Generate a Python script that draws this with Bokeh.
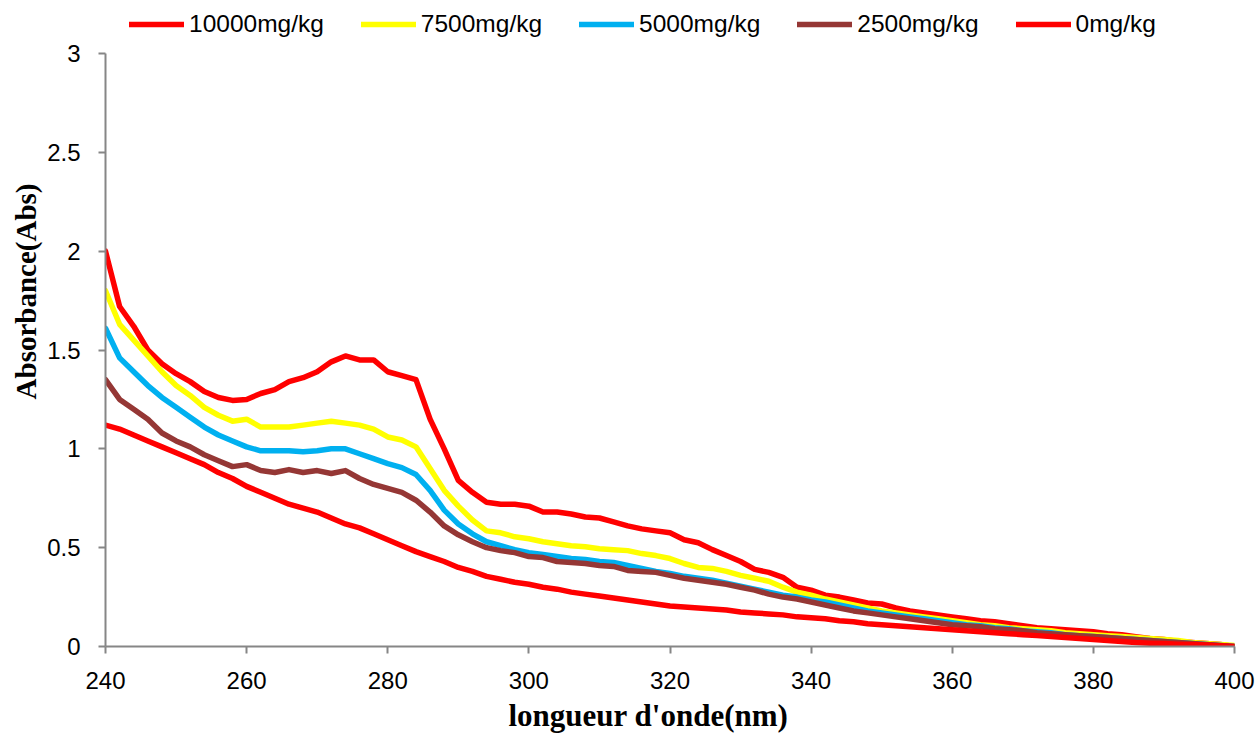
from bokeh.plotting import figure
from bokeh.models import Range1d, FixedTicker, CustomJSTickFormatter, Legend, LegendItem, Title
from bokeh.embed import file_html
from bokeh.resources import INLINE

wavelength = list(range(240, 401, 2))

abs_10000 = [2.00, 1.72, 1.62, 1.50, 1.43, 1.38, 1.34, 1.29, 1.26, 1.245,
             1.25, 1.28, 1.30, 1.34, 1.36, 1.39, 1.44, 1.47, 1.45, 1.45,
             1.39, 1.37, 1.35, 1.15, 1.00, 0.84, 0.78, 0.73, 0.72, 0.72,
             0.71, 0.68, 0.68, 0.67, 0.655, 0.65, 0.63, 0.61, 0.595, 0.585,
             0.575, 0.54, 0.525, 0.49, 0.46, 0.43, 0.39, 0.375, 0.35, 0.30,
             0.285, 0.26, 0.25, 0.235, 0.22, 0.215, 0.195, 0.18, 0.17, 0.16,
             0.15, 0.14, 0.13, 0.125, 0.115, 0.105, 0.095, 0.09, 0.085, 0.08,
             0.075, 0.065, 0.06, 0.05, 0.04, 0.035, 0.025, 0.02, 0.015, 0.01,
             0.00]

abs_7500 = [1.80, 1.63, 1.55, 1.47, 1.39, 1.32, 1.27, 1.21, 1.17, 1.14,
            1.15, 1.11, 1.11, 1.11, 1.12, 1.13, 1.14, 1.13, 1.12, 1.10,
            1.06, 1.045, 1.01, 0.90, 0.79, 0.71, 0.64, 0.585, 0.575, 0.555,
            0.545, 0.53, 0.52, 0.51, 0.505, 0.495, 0.49, 0.485, 0.47, 0.46,
            0.445, 0.42, 0.40, 0.395, 0.38, 0.36, 0.345, 0.33, 0.30, 0.275,
            0.26, 0.24, 0.225, 0.21, 0.195, 0.18, 0.17, 0.16, 0.15, 0.14,
            0.13, 0.12, 0.11, 0.105, 0.095, 0.09, 0.085, 0.08, 0.07, 0.065,
            0.06, 0.055, 0.05, 0.045, 0.04, 0.035, 0.03, 0.02, 0.015, 0.01,
            0.005]

abs_5000 = [1.61, 1.46, 1.39, 1.32, 1.26, 1.21, 1.16, 1.11, 1.07, 1.04,
            1.01, 0.99, 0.99, 0.99, 0.985, 0.99, 1.00, 1.00, 0.975, 0.95,
            0.925, 0.905, 0.87, 0.79, 0.69, 0.62, 0.57, 0.53, 0.51, 0.49,
            0.475, 0.465, 0.455, 0.445, 0.44, 0.43, 0.425, 0.41, 0.395, 0.38,
            0.37, 0.355, 0.345, 0.335, 0.32, 0.305, 0.29, 0.275, 0.26, 0.25,
            0.235, 0.225, 0.21, 0.195, 0.18, 0.17, 0.16, 0.15, 0.14, 0.13,
            0.12, 0.11, 0.105, 0.095, 0.09, 0.08, 0.075, 0.07, 0.06, 0.055,
            0.05, 0.045, 0.04, 0.035, 0.03, 0.025, 0.02, 0.015, 0.01, 0.005,
            0.0]

abs_2500 = [1.35, 1.25, 1.20, 1.15, 1.08, 1.04, 1.01, 0.97, 0.94, 0.91,
            0.92, 0.89, 0.88, 0.895, 0.88, 0.89, 0.875, 0.89, 0.85, 0.82,
            0.80, 0.78, 0.74, 0.68, 0.61, 0.565, 0.53, 0.50, 0.485, 0.475,
            0.455, 0.45, 0.43, 0.425, 0.42, 0.41, 0.405, 0.385, 0.38, 0.375,
            0.36, 0.345, 0.335, 0.325, 0.315, 0.30, 0.285, 0.265, 0.25, 0.24,
            0.225, 0.21, 0.195, 0.18, 0.17, 0.16, 0.15, 0.14, 0.13, 0.12,
            0.11, 0.105, 0.10, 0.09, 0.085, 0.08, 0.07, 0.065, 0.06, 0.055,
            0.05, 0.045, 0.04, 0.035, 0.03, 0.025, 0.02, 0.015, 0.01, 0.005,
            0.0]

abs_0 = [1.12, 1.10, 1.07, 1.04, 1.01, 0.98, 0.95, 0.92, 0.88, 0.85,
         0.81, 0.78, 0.75, 0.72, 0.70, 0.68, 0.65, 0.62, 0.60, 0.57,
         0.54, 0.51, 0.48, 0.455, 0.43, 0.40, 0.38, 0.355, 0.34, 0.325,
         0.315, 0.30, 0.29, 0.275, 0.265, 0.255, 0.245, 0.235, 0.225, 0.215,
         0.205, 0.20, 0.195, 0.19, 0.185, 0.175, 0.17, 0.165, 0.16, 0.15,
         0.145, 0.14, 0.13, 0.125, 0.115, 0.11, 0.105, 0.10, 0.095, 0.09,
         0.085, 0.08, 0.075, 0.07, 0.065, 0.06, 0.055, 0.05, 0.045, 0.04,
         0.035, 0.03, 0.025, 0.02, 0.017, 0.015, 0.012, 0.01, 0.007, 0.004,
         0.0]

series_labels = ["10000mg/kg", "7500mg/kg", "5000mg/kg", "2500mg/kg", "0mg/kg"]
series_values = [abs_10000, abs_7500, abs_5000, abs_2500, abs_0]
series_colors = ["#FF0000", "#FFFF00", "#00B0F0", "#953735", "#FF0000"]

x_ticks = [240, 260, 280, 300, 320, 340, 360, 380, 400]
y_ticks = [0, 0.5, 1, 1.5, 2, 2.5, 3]

# frame spans the whole height above the x axis; the top 53 px hold the legend
p = figure(width=1258, height=749, output_backend="svg", toolbar_location=None,
           x_range=Range1d(240, 400), y_range=Range1d(0, 3 * 646 / 593),
           min_border_left=105, min_border_right=24, min_border_top=0,
           min_border_bottom=103)
p.outline_line_color = None
p.xgrid.visible = False
p.ygrid.visible = False
p.background_fill_color = "white"
p.border_fill_color = "white"

items = []
for lab, vals, col in zip(series_labels, series_values, series_colors):
    r = p.line(wavelength, vals, line_color=col, line_width=5.5,
               line_join="round", line_cap="round")
    items.append(LegendItem(label=lab, renderers=[r]))

legend = Legend(items=items, orientation="horizontal", location=(24, 608),
                glyph_width=55, glyph_height=20, label_standoff=5, spacing=37,
                padding=0, margin=0, border_line_color=None,
                background_fill_alpha=0, label_text_font="Liberation Sans",
                label_text_font_size="24.5px", label_text_color="black")
p.add_layout(legend, "center")

fmt = CustomJSTickFormatter(code="return tick.toString();")
for ax, ticks in ((p.xaxis[0], x_ticks), (p.yaxis[0], y_ticks)):
    ax.ticker = FixedTicker(ticks=ticks, minor_ticks=[])
    ax.formatter = fmt
    ax.axis_line_color = "#868686"
    ax.axis_line_width = 2
    ax.major_tick_line_color = "#868686"
    ax.major_tick_line_width = 2
    ax.major_tick_out = 7
    ax.major_tick_in = 0
    ax.minor_tick_line_color = None
    ax.major_label_text_font = "Liberation Sans"
    ax.major_label_text_font_size = "24px"
    ax.major_label_text_color = "black"

p.yaxis[0].bounds = (0, 3)
p.xaxis[0].major_label_standoff = 18
p.yaxis[0].major_label_standoff = 18

xtitle = Title(text="longueur d'onde(nm)", align="left", offset=403,
               vertical_align="top",
               text_font="Liberation Serif", text_font_style="bold",
               text_font_size="31px", text_color="black", standoff=13)
p.add_layout(xtitle, "below")
ytitle = Title(text="Absorbance(Abs)", align="right", offset=183,
               text_font="Liberation Serif", text_font_style="bold",
               text_font_size="29px", text_color="black", standoff=6)
p.add_layout(ytitle, "left")

open("out.html", "w").write(file_html(p, INLINE))
